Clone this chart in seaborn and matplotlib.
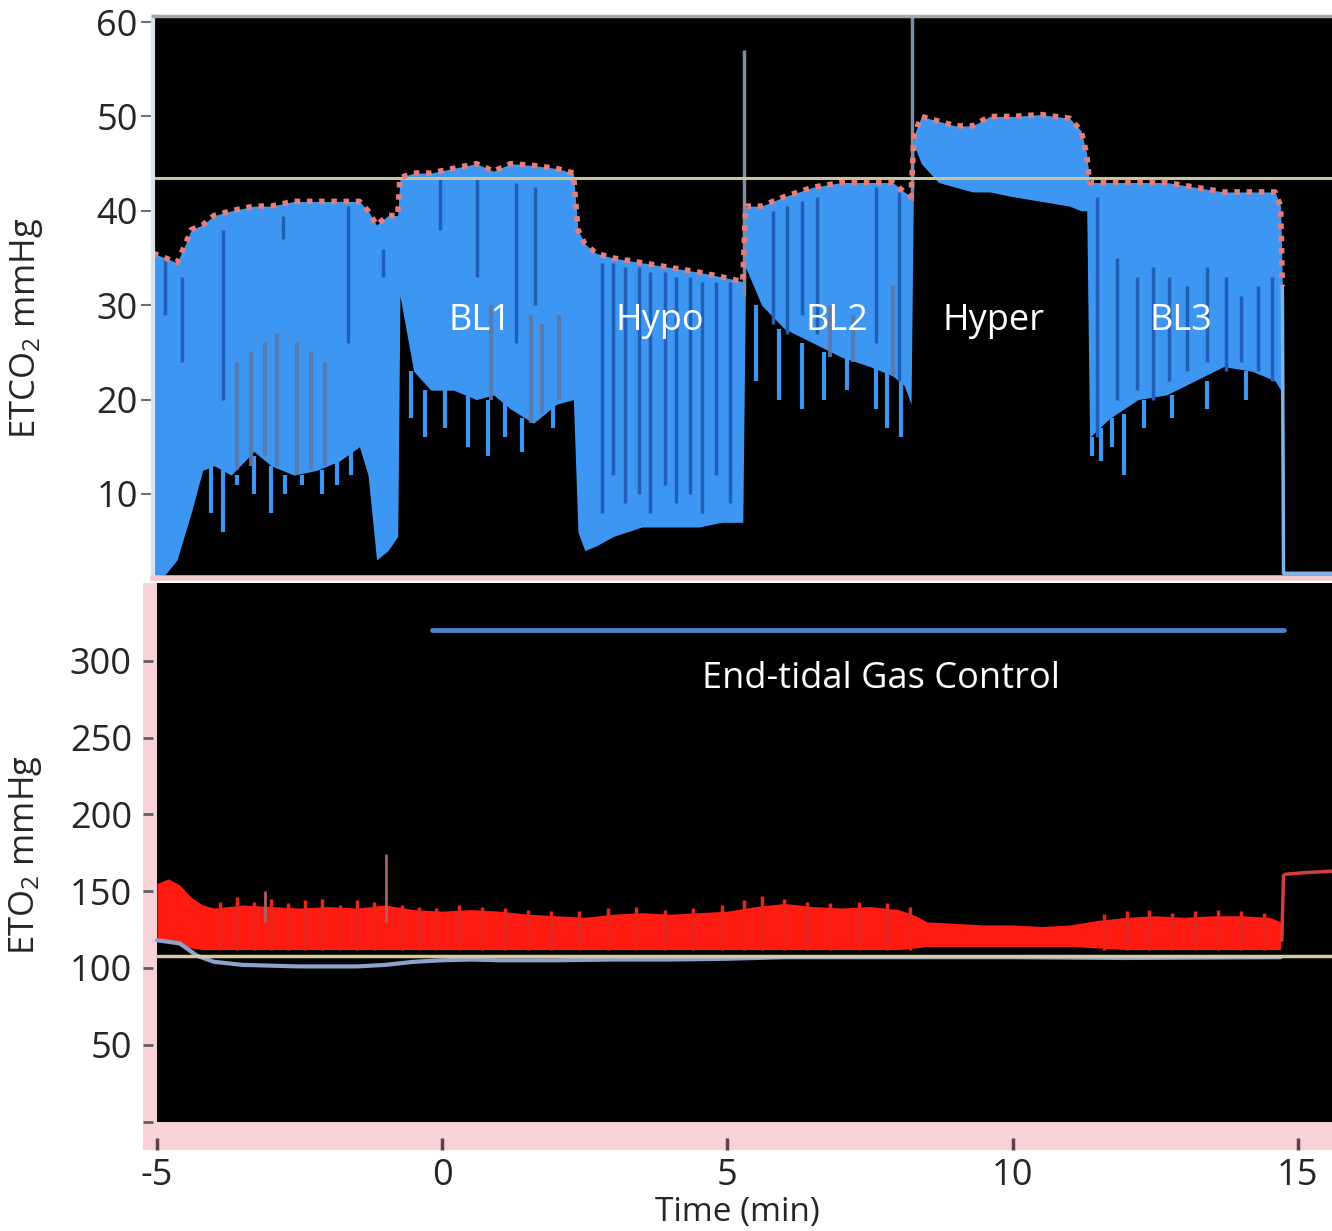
import numpy as np
import matplotlib
matplotlib.use("Agg")
import matplotlib.pyplot as plt
import seaborn as sns

# ETCO2 trace (top panel), time in minutes
co2_t = [-5.07, -4.85, -4.65, -4.5, -4.4, -4.2, -4.0, -3.7, -3.3, -3.0, -2.6, -2.2, -1.8, -1.45,
         -1.3, -1.15, -0.95, -0.78, -0.74, -0.5, -0.2, 0.2, 0.6, 0.9, 1.2, 1.6, 2.0, 2.3,
         2.38, 2.5, 2.7, 3.0, 3.5, 4.0, 4.5, 4.9, 5.27, 5.32, 5.6, 6.0, 6.5, 7.0, 7.5, 7.9,
         8.1, 8.22, 8.27, 8.4, 8.7, 9.0, 9.3, 9.6, 10.0, 10.5, 11.0, 11.2, 11.3, 11.35, 11.7,
         12.2, 12.7, 13.2, 13.7, 14.2, 14.6, 14.7, 14.73, 14.75, 15.6]
co2_peak = [35.5, 35, 34.5, 36.5, 38, 38.5, 39.5, 40, 40.5, 40.5, 41, 41, 41, 41,
            40, 38.5, 39.5, 39.5, 43.5, 44, 44, 44.5, 45, 44.2, 45, 44.8, 44.5, 44,
            38, 36.5, 35.5, 35, 34.5, 34, 33.5, 33, 32.5, 40.5, 40.5, 41.5, 42.5, 43, 43, 43,
            42, 41.5, 48, 50, 49.5, 49, 49, 50, 50, 50.2, 49.8, 48.5, 46, 43, 43,
            43, 43, 42.5, 42, 42, 42, 40.5, 32, 1.6, 1.6]
co2_trough = [1.2, 1.5, 3, 6, 8, 12.5, 13, 12, 14.5, 13, 12, 12.5, 13.5, 15,
              12, 3, 4, 5.5, 31, 23, 21, 21, 20, 20.5, 19, 17.5, 19.5, 20,
              6, 4, 4.5, 5.5, 6.5, 6.5, 6.5, 7, 7, 34, 30, 27.5, 26, 24.5, 23.5, 22.5,
              21.5, 19.5, 47, 45, 43, 42.5, 42, 42, 41.5, 41, 40.5, 40, 40, 16, 18,
              20, 20.5, 22, 23.5, 23, 22, 21, 1.6, 1.6, 1.6]

# deep breaths reaching below the trough (time, top, bottom)
deep_t = [-4.05, -3.85, -3.6, -3.3, -3.0, -2.75, -2.45, -2.1, -1.85, -1.6,
          -0.55, -0.3, 0.05, 0.45, 0.8, 1.1, 1.4, 1.95,
          5.5, 5.9, 6.3, 6.7, 7.1, 7.6, 7.8, 8.05,
          11.4, 11.55, 11.75, 11.95, 12.3, 12.8, 13.4, 14.1]
deep_top = [13, 12.5, 12, 14, 13, 12, 12, 12.5, 13.5, 15,
            23, 21, 21, 21, 20, 20.5, 18, 19.5,
            30, 27.5, 26, 25, 24.5, 23.5, 23, 22,
            16, 17, 18, 18.5, 20, 20.5, 22, 23]
deep_bot = [8, 6, 11, 10, 8, 10, 11, 10, 11, 12,
            18, 16, 17, 15, 14, 16, 14.5, 17,
            22, 20, 19, 20, 21, 19, 17, 16,
            14, 13.5, 15, 12, 17, 18, 19, 20]

# darker streaks inside the blue band (time, top, bottom)
dark_t = [-4.86, -4.56, -3.85, -2.79, -1.65, -1.04,
          -0.04, 0.61, 1.3, 1.63,
          2.8, 3.0, 3.2, 3.45, 3.65, 3.9, 4.1, 4.35, 4.55, 4.8, 5.05,
          5.8, 6.05, 6.3, 6.57, 7.6, 8.0,
          11.48, 11.83, 12.18, 12.46, 12.75, 13.05, 13.4, 13.75, 14.0, 14.3, 14.55]
dark_top = [35, 33, 38, 39.5, 40.5, 36,
            43.5, 43.5, 43, 42.5,
            34.5, 34.5, 34, 34, 33.5, 33.5, 33, 33, 32.5, 32.5, 32.5,
            40, 40.5, 41, 41.5, 42.5, 42,
            41.5, 35, 33, 34, 33, 32, 34, 33, 31, 32, 33]
dark_bot = [29, 24, 20, 37, 26, 33,
            38, 33, 26, 30,
            8, 12, 9, 10, 8, 11, 9, 10, 8, 12, 9,
            28, 27, 29, 27, 26, 22,
            16, 20, 21, 20, 22, 23, 24, 23, 24, 23, 22]

# grey columns (partial breaths) drawn over the band
grey_t = [-3.6, -3.35, -3.1, -2.9, -2.55, -2.3, -2.05, 0.85, 1.55, 1.75, 2.05, 6.8, 7.2, 7.9]
grey_top = [24, 25, 26, 27, 26, 25, 24, 30, 29, 28, 29, 30, 29, 32]
grey_bot = [12.5, 13, 14, 13, 12, 12.5, 13, 20, 17.5, 18.5, 20, 24.5, 24, 22.5]

# calibration spikes
spike_t = [5.29, 8.24]
spike_top = [57, 60.5]
spike_bot = [31, 41]

co2_target = 43.5
phase_names = ["BL1", "Hypo", "BL2", "Hyper", "BL3"]
phase_x = [0.66, 3.81, 6.92, 9.67, 12.95]
phase_y = 28.3

# ETO2 trace (bottom panel)
o2_t = [-5.0, -4.8, -4.6, -4.4, -4.2, -4.0, -3.5, -3.0, -2.5, -2.0, -1.5, -1.0, -0.5, 0.0,
        0.5, 1.0, 1.5, 2.0, 2.5, 3.0, 3.5, 4.0, 4.5, 5.0, 5.5, 6.0, 6.5, 7.0, 7.5, 8.0,
        8.3, 8.5, 9.0, 9.5, 10.0, 10.5, 11.0, 11.5, 12.0, 12.5, 13.0, 13.5, 14.0, 14.5, 14.7]
o2_peak = [155, 158, 154, 146, 141, 139, 141, 140, 139, 140, 139, 141, 138, 137,
           138, 137, 135, 134, 133, 135, 136, 135, 136, 137, 140, 142, 140, 139, 140, 138,
           134, 130, 129, 128, 128, 127, 128, 131, 133, 134, 133, 134, 134, 133, 130]
o2_trough = [118, 117, 115, 113, 112, 112, 112, 112, 112, 112, 112, 112, 112, 112,
             112, 112, 112, 112, 112, 112, 112, 112, 112, 112, 112, 112, 112, 112, 112, 112,
             113, 114, 114, 114, 114, 114, 114, 113, 112, 112, 112, 112, 112, 112, 112]
base_t = [-5.0, -4.6, -4.3, -4.0, -3.5, -3.0, -2.5, -2.0, -1.5, -1.0, -0.5, 0.0, 0.5, 1.0,
          2.0, 3.0, 4.0, 5.0, 6.0, 8.0, 10.0, 12.0, 14.7]
base_val = [118, 116, 108, 104, 102, 101.5, 101, 101, 101, 102, 104, 105, 105.5, 105,
            105, 105.5, 105.5, 106, 107, 107, 107, 106.5, 107]
step_t = [14.72, 14.75, 14.78, 15.1, 15.6]
step_val = [118, 160, 161, 162, 163]

# red striations (breath tops above the band)
stria_t = [-3.9, -3.6, -3.3, -3.0, -2.7, -2.4, -2.1, -1.8, -1.5, -1.2, -0.7, -0.4, -0.1, 0.3,
           0.7, 1.1, 1.5, 1.9, 2.4, 2.9, 3.4, 3.9, 4.4, 4.9, 5.3, 5.6, 6.0, 6.4, 6.8, 7.3,
           7.8, 8.2, 11.6, 12.0, 12.4, 12.8, 13.2, 13.6, 14.0, 14.4]
stria_top = [143, 146, 143, 145, 142, 144, 145, 141, 144, 143, 141, 140, 139, 141,
             140, 139, 138, 137, 137, 139, 140, 138, 139, 141, 144, 147, 145, 143, 142, 143,
             142, 140, 135, 137, 138, 136, 137, 138, 137, 136]
o2_spike_t = [-0.98, -3.1]
o2_spike_top = [174, 150]
o2_target = 108
gas_line_x = [-0.18, 14.75]
gas_line_y = 320

sns.set_style("white")
plt.rcParams["font.family"] = ["Open Sans", "DejaVu Sans"]
plt.rcParams["mathtext.default"] = "regular"
plt.rcParams["axes.unicode_minus"] = False

W, H = 1332, 1231
fig = plt.figure(figsize=(W / 100, H / 100), dpi=100)

band_blue = "#3d97f2"

# top panel
ax1 = fig.add_axes([153 / W, 1 - 578 / H, 1 - 153 / W, (578 - 16) / H])
ax1.set_facecolor("black")
ax1.fill_between(co2_t, co2_trough, co2_peak, color=band_blue, linewidth=0)
ax1.vlines(deep_t, deep_bot, deep_top, color=band_blue, linewidth=3)
ax1.vlines(grey_t, grey_bot, grey_top, color="#5b78a8", linewidth=3, alpha=0.9)
ax1.vlines(dark_t, dark_bot, dark_top, color="#1f5fb8", linewidth=2.5)
ax1.vlines(spike_t, spike_bot, spike_top, color="#7d8ea3", linewidth=2.5)
ax1.axhline(co2_target, color="#c9c49a", linewidth=2.2)
sns.lineplot(x=co2_t[:-2], y=co2_peak[:-2], ax=ax1, color="#e47d7d", linewidth=4,
             linestyle=(0, (1, 1.2)), sort=False, estimator=None)
sns.lineplot(x=co2_t[-3:], y=co2_peak[-3:], ax=ax1, color="#7fb4e6", linewidth=2.5,
             sort=False, estimator=None)
for name, x in zip(phase_names, phase_x):
    ax1.text(x, phase_y, name, color="white", fontsize=26, ha="center", va="center")
ax1.set_xlim(-5.07, 15.6)
ax1.set_ylim(1.1, 60.64)
ax1.set_xticks([])
ax1.set_yticks([10, 20, 30, 40, 50, 60])
ax1.tick_params(axis="y", direction="out", length=9, width=1.5, color="#707070",
                labelsize=26, pad=2, left=True)
ax1.spines["right"].set_visible(False)
ax1.spines["top"].set_color("#a8a8a8")
ax1.spines["top"].set_linewidth(2.5)
ax1.spines["left"].set_color("#d6e4ee")
ax1.spines["left"].set_linewidth(3)
ax1.spines["bottom"].set_color("#f2c9cc")
ax1.spines["bottom"].set_linewidth(4)
ax1.set_ylabel("ETCO$_2$ mmHg", fontsize=25)
ax1.yaxis.set_label_coords(-0.092, 0.445)

# bottom panel
ax2 = fig.add_axes([143 / W, 1 - 1150 / H, 1 - 143 / W, (1150 - 583) / H])
ax2.set_facecolor("#f7d3d8")
ax2.axhspan(0, 352, xmin=14 / (W - 143), xmax=1, color="black", linewidth=0)
ax2.fill_between(o2_t, o2_trough, o2_peak, color="#ff1a12", linewidth=0)
ax2.vlines(stria_t, o2_trough[6], stria_top, color="#e8251c", linewidth=2.5)
ax2.vlines(o2_spike_t, 130, o2_spike_top, color="#b06060", linewidth=2)
sns.lineplot(x=base_t, y=base_val, ax=ax2, color="#8ea2cc", linewidth=3,
             sort=False, estimator=None)
ax2.axhline(o2_target, xmin=14 / (W - 143), color="#d8c9a0", linewidth=2.5)
sns.lineplot(x=step_t, y=step_val, ax=ax2, color="#d63c3c", linewidth=2.5,
             sort=False, estimator=None)
ax2.plot(gas_line_x, [gas_line_y, gas_line_y], color="#4a82c4", linewidth=3.5)
ax2.text(7.7, 288, "End-tidal Gas Control", color="white", fontsize=26,
         ha="center", va="center")
ax2.set_xlim(-5.245, 15.6)
ax2.set_ylim(-18.5, 350.6)
ax2.set_yticks([0, 50, 100, 150, 200, 250, 300])
ax2.set_yticklabels(["", "50", "100", "150", "200", "250", "300"])
ax2.set_xticks([-5, 0, 5, 10, 15])
ax2.tick_params(axis="y", direction="in", length=7, width=2, color="#606060",
                labelsize=26, pad=8, left=True)
ax2.tick_params(axis="x", direction="in", length=9, width=2.5, color="#5a4448",
                labelsize=26, pad=6, bottom=True)
for s in ax2.spines.values():
    s.set_visible(False)
ax2.set_xlabel("Time (min)", fontsize=24)
ax2.xaxis.set_label_coords(0.5, -0.082)
ax2.set_ylabel("ETO$_2$ mmHg", fontsize=25)
ax2.yaxis.set_label_coords(-0.083, 0.52)

fig.savefig("out.png", dpi=100)
